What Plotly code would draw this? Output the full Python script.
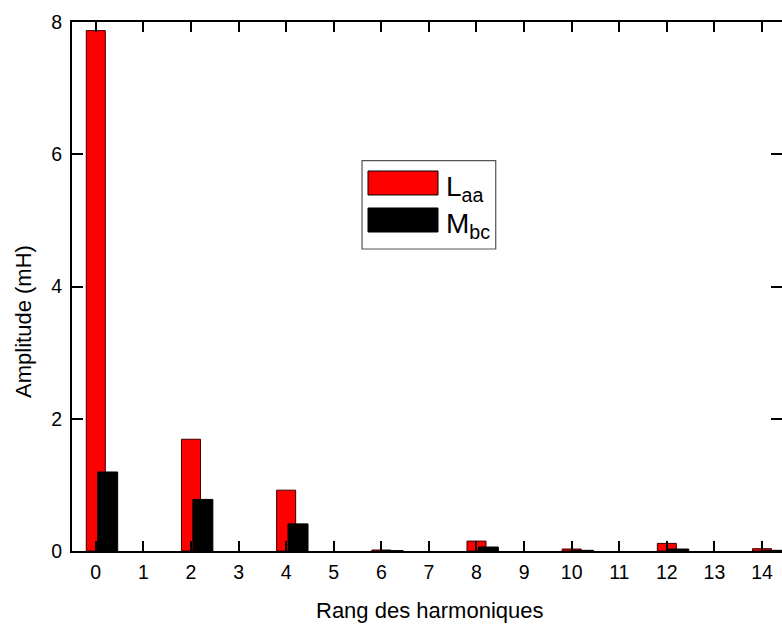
import plotly.graph_objects as go

# Harmonic spectrum of the self inductance L_aa and mutual inductance M_bc
# (odd harmonics are absent, hence None)
harmonics = list(range(15))
laa_mh = [7.87, None, 1.69, None, 0.92, None, 0.015, None, 0.15, None, 0.03, None, 0.115, None, 0.035]
mbc_mh = [1.195, None, 0.78, None, 0.41, None, 0.005, None, 0.06, None, 0.01, None, 0.03, None, 0.01]
series_names = ["L<sub>aa</sub>", "M<sub>bc</sub>"]
series_colors = ["#FF0000", "#000000"]
y_ticks = [0, 2, 4, 6, 8]

FONT = "Liberation Sans, Arial, sans-serif"

fig = go.Figure()
fig.add_trace(go.Bar(
    x=harmonics, y=laa_mh, name=series_names[0],
    width=0.4, offset=-0.2,
    marker=dict(color=series_colors[0], line=dict(color="#3a0000", width=1)),
    showlegend=False,
))
fig.add_trace(go.Bar(
    x=harmonics, y=mbc_mh, name=series_names[1],
    width=0.42, offset=0.04,
    marker=dict(color=series_colors[1], line=dict(color="#000000", width=1)),
    showlegend=False,
))
# invisible trace so the right-hand tick axis is rendered
fig.add_trace(go.Scatter(x=[0], y=[0], yaxis="y2", mode="markers",
                         marker=dict(opacity=0), showlegend=False, hoverinfo="skip"))

axis_common = dict(
    ticks="inside", tickwidth=2, tickcolor="black",
    showgrid=False, zeroline=False,
    tickfont=dict(family=FONT, size=19.5, color="black"),
)

fig.update_layout(
    width=782, height=626,
    margin=dict(l=72, r=0, t=22, b=75),
    paper_bgcolor="white", plot_bgcolor="white",
    barmode="overlay",
    xaxis=dict(
        range=[-0.5, 14.42], tickvals=harmonics, ticklen=10,
        showline=True, linewidth=2, linecolor="black", mirror="ticks",
        ticklabelstandoff=3,
        **axis_common,
    ),
    yaxis=dict(
        range=[0, 8], tickvals=y_ticks, ticklen=11,
        showline=True, linewidth=2, linecolor="black",
        ticklabelstandoff=4,
        **axis_common,
    ),
    yaxis2=dict(
        range=[0, 8], tickvals=y_ticks, ticklen=11, overlaying="y", side="right",
        showline=False, showticklabels=False, ticks="inside", tickwidth=2,
        tickcolor="black", showgrid=False, zeroline=False,
    ),
)

# axis titles
fig.add_annotation(
    text="Rang des harmoniques", xref="paper", yref="paper",
    x=0.504, y=-0.1134, xanchor="center", yanchor="middle", showarrow=False,
    font=dict(family=FONT, size=22, color="black"),
)
fig.add_annotation(
    text="Amplitude (mH)", xref="paper", yref="paper", textangle=-90,
    x=-0.0676, y=0.433, xanchor="center", yanchor="middle", showarrow=False,
    font=dict(family=FONT, size=22, color="black"),
)

# legend box with wide swatches
fig.add_shape(type="rect", xref="paper", yref="paper",
              x0=0.4085, x1=0.5968, y0=0.5709, y1=0.7379,
              line=dict(color="#555555", width=1.2), fillcolor="white", layer="above")
swatch_rows = [(0.6730, 0.7183), (0.6030, 0.6484)]
for (y0, y1), name, color in zip(swatch_rows, series_names, series_colors):
    fig.add_shape(type="rect", xref="paper", yref="paper",
                  x0=0.4169, x1=0.5155, y0=y0, y1=y1,
                  line=dict(color="#000000", width=1), fillcolor=color, layer="above")
    fig.add_annotation(
        text=name, xref="paper", yref="paper",
        x=0.5240, y=(y0 + y1) / 2 - 0.010, xanchor="left", yanchor="middle",
        showarrow=False, font=dict(family=FONT, size=28, color="black"),
    )

fig.write_html("out.html")
